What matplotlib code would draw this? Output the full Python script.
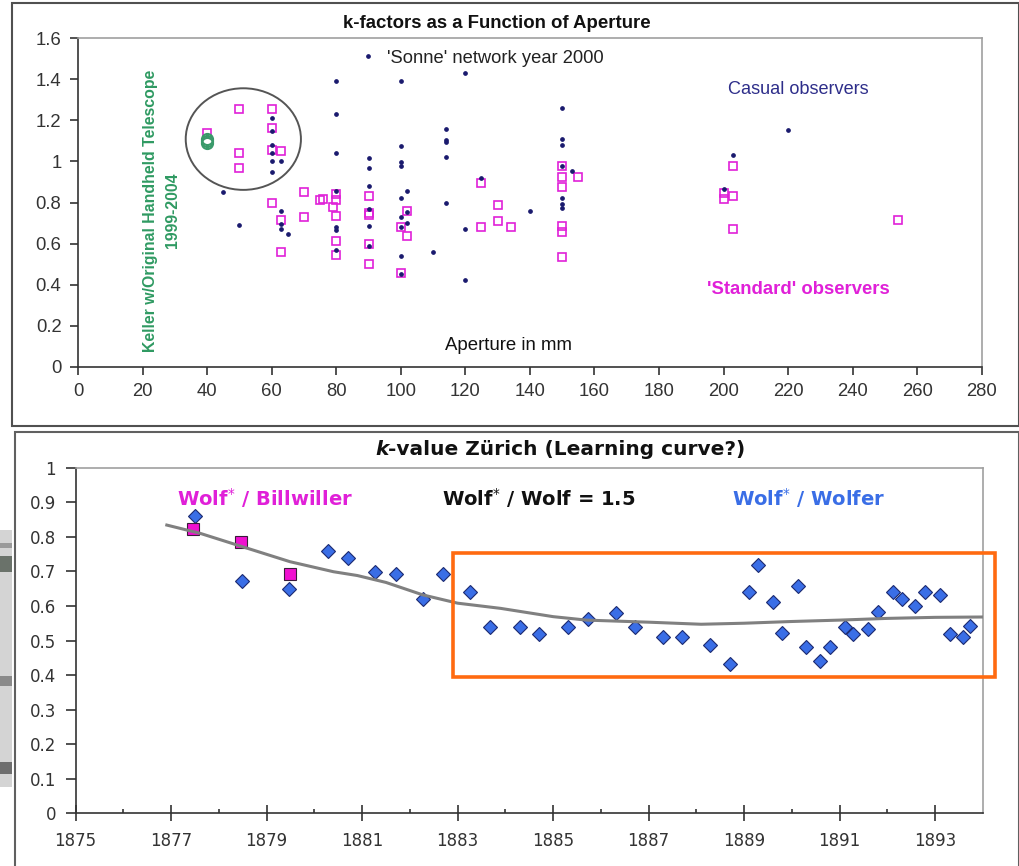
import matplotlib
matplotlib.use("Agg")
import matplotlib.pyplot as plt
from matplotlib.patches import Rectangle, Ellipse

# ---- datos: k-factors vs apertura ----
casual_ap = [45, 50, 60, 60, 60, 60, 60, 60, 63, 63, 63, 63, 65,
             80, 80, 80, 80, 80, 80, 80, 90, 90, 90, 90, 90, 90,
             100, 100, 100, 100, 100, 100, 100, 100, 100, 102, 102, 102,
             110, 114, 114, 114, 114, 114, 120, 120, 120, 125, 140,
             150, 150, 150, 150, 150, 150, 150, 153, 200, 203, 220]
casual_k = [0.85, 0.69, 1.21, 1.15, 1.08, 1.04, 1.0, 0.95, 1.0, 0.76, 0.695, 0.67, 0.645,
            1.39, 1.23, 1.04, 0.856, 0.68, 0.665, 0.57, 1.015, 0.97, 0.88, 0.77, 0.685, 0.59,
            1.39, 1.075, 0.995, 0.98, 0.82, 0.73, 0.68, 0.54, 0.45, 0.856, 0.755, 0.70,
            0.557, 1.16, 1.105, 1.095, 1.023, 0.80, 1.43, 0.673, 0.42, 0.92, 0.76,
            1.26, 1.108, 1.082, 0.98, 0.822, 0.793, 0.772, 0.952, 0.864, 1.032, 1.153]

standard_ap = [40, 50, 50, 50, 60, 60, 60, 63, 60, 63, 63, 70, 70, 75, 76, 79,
               80, 80, 80, 80, 80, 90, 90, 90, 90, 90, 100, 100, 102, 102,
               125, 125, 130, 130, 134, 150, 150, 150, 150, 150, 150, 155,
               200, 200, 203, 203, 203, 254]
standard_k = [1.14, 1.254, 1.04, 0.968, 1.254, 1.161, 1.057, 1.053, 0.80, 0.715, 0.56, 0.851, 0.728, 0.812, 0.817, 0.78,
              0.841, 0.812, 0.734, 0.614, 0.543, 0.832, 0.747, 0.739, 0.598, 0.502, 0.682, 0.455, 0.760, 0.637,
              0.897, 0.682, 0.786, 0.708, 0.682, 0.98, 0.923, 0.877, 0.687, 0.658, 0.533, 0.923,
              0.848, 0.817, 0.978, 0.833, 0.671, 0.715]

keller_ap = [40, 40, 40]
keller_k = [1.09, 1.10, 1.11]

# ---- datos: k-value Zürich ----
wolfer_year = [1877.49, 1878.48, 1879.47, 1880.29, 1880.70, 1881.28, 1881.71, 1882.27, 1882.69,
               1883.26, 1883.68, 1884.30, 1884.70, 1885.31, 1885.72, 1886.32, 1886.71, 1887.30,
               1887.70, 1888.29, 1888.70, 1889.11, 1889.30, 1889.60, 1889.79, 1890.12, 1890.29,
               1890.59, 1890.80, 1891.12, 1891.29, 1891.59, 1891.80, 1892.11, 1892.30, 1892.58,
               1892.79, 1893.10, 1893.31, 1893.59, 1893.72]
wolfer_k = [0.861, 0.672, 0.650, 0.760, 0.738, 0.699, 0.691, 0.621, 0.691,
            0.639, 0.540, 0.540, 0.518, 0.540, 0.561, 0.581, 0.540, 0.511,
            0.511, 0.487, 0.431, 0.639, 0.719, 0.612, 0.521, 0.659, 0.482,
            0.442, 0.482, 0.540, 0.518, 0.532, 0.582, 0.639, 0.620, 0.600,
            0.639, 0.632, 0.519, 0.511, 0.542]

billwiller_year = [1877.45, 1878.46, 1879.48]
billwiller_k = [0.823, 0.786, 0.693]

trend_year = [1876.91, 1877.61, 1878.48, 1879.49, 1880.40, 1880.90, 1881.5, 1882.27, 1883.0,
              1883.9, 1885.0, 1885.7, 1887.0, 1888.1, 1889.0, 1890.0, 1891.0, 1892.0, 1893.0, 1894.0]
trend_k = [0.834, 0.810, 0.772, 0.728, 0.699, 0.688, 0.668, 0.632, 0.608,
           0.593, 0.569, 0.559, 0.553, 0.547, 0.550, 0.555, 0.559, 0.564, 0.567, 0.568]

W, H = 1020, 866


def box(x0, y0, x1, y1):
    # pixel (arriba-izquierda) -> fracción de figura
    return [x0 / W, 1 - y1 / H, (x1 - x0) / W, (y1 - y0) / H]


fig = plt.figure(figsize=(10.2, 8.66), dpi=100)
fig.patch.set_facecolor("white")

# marcos exteriores
fig.patches.append(Rectangle((12 / W, 1 - 426 / H), 1007 / W, 423 / H, transform=fig.transFigure,
                             fill=False, ec="#505050", lw=1.5))
fig.patches.append(Rectangle((15 / W, -0.05), 1004 / W, 1 - 432 / H + 0.05, transform=fig.transFigure,
                             fill=False, ec="#606060", lw=1.5))
# tira de foto a la izquierda
fig.patches.append(Rectangle((0, 1 - 787 / H), 12 / W, 257 / H, transform=fig.transFigure,
                             fc="#d4d4d4", ec="none"))
for y0, y1, c in [(543, 548, "#9a9a9a"), (556, 572, "#6a726a"), (676, 686, "#8a8a8a"), (762, 774, "#6e6e6e")]:
    fig.patches.append(Rectangle((0, 1 - y1 / H), 12 / W, (y1 - y0) / H, transform=fig.transFigure,
                                 fc=c, ec="none"))

# ================= gráfica superior =================
sans = ["Liberation Sans", "DejaVu Sans"]
ax1 = fig.add_axes(box(78.1, 38.3, 981.7, 366.7))
ax1.plot(standard_ap, standard_k, "s", ms=5.5, mfc="none", mec="#e020d8", mew=1.2, zorder=3)
dots, = ax1.plot(casual_ap, casual_k, "o", ms=2.4, color="#1a1a6e", zorder=4,
                 label="'Sonne' network year 2000")
ax1.plot(keller_ap, keller_k, "o", ms=8, mfc="none", mec="#3a9a6a", mew=1.5, zorder=5)
ax1.add_patch(Ellipse((51.2, 1.109), 35.7, 0.495, fill=False, ec="#555555", lw=1.4, zorder=2))

ax1.set_xlim(0, 280)
ax1.set_ylim(0, 1.6)
ax1.set_xticks(range(0, 281, 20))
ax1.set_yticks([i * 0.2 for i in range(9)])
ax1.set_yticklabels(["0", "0.2", "0.4", "0.6", "0.8", "1", "1.2", "1.4", "1.6"])
ax1.tick_params(direction="out", length=6, width=1.2, color="#333333", labelsize=13.3,
                labelcolor="#333333", pad=6)
for lbl in ax1.get_xticklabels() + ax1.get_yticklabels():
    lbl.set_family(sans)
for s in ["left", "bottom"]:
    ax1.spines[s].set_color("#333333")
    ax1.spines[s].set_linewidth(1.2)
for s in ["top", "right"]:
    ax1.spines[s].set_color("#a0a0a0")
    ax1.spines[s].set_linewidth(1.2)

ax1.legend(handles=[dots], loc="center left", bbox_to_anchor=(0.3147, 0.94), frameon=False,
           handlelength=0.6, handletextpad=0.73, borderpad=0, borderaxespad=0,
           prop={"family": sans, "size": 13.2}, labelcolor="#222222")

fig.text(497 / W, 1 - 23 / H, "k-factors as a Function of Aperture", family=sans, weight="bold",
         size=13.4, ha="center", va="center", color="#111111")
fig.text(728 / W, 1 - 90 / H, "Casual observers", family=sans, size=13.1, color="#2e2e8a",
         ha="left", va="center")
fig.text(707 / W, 1 - 289 / H, "'Standard' observers", family=sans, size=13.3, weight="bold",
         color="#e020d8", ha="left", va="center")
fig.text(445 / W, 1 - 345 / H, "Aperture in mm", family=sans, size=13.4, color="#111111",
         ha="left", va="center")
fig.text(150 / W, 1 - 211 / H, "Keller w/Original Handheld Telescope", family=sans, size=11.4,
         weight="bold", color="#2f9a62", rotation=90, ha="center", va="center")
fig.text(173 / W, 1 - 210 / H, "1999-2004", family=sans, size=11.4, weight="bold",
         color="#2f9a62", rotation=90, ha="center", va="center")

# ================= gráfica inferior =================
plt.rcParams["mathtext.fontset"] = "dejavusans"
ax2 = fig.add_axes(box(75.6, 467.7, 982.9, 813.3))
ax2.plot(wolfer_year, wolfer_k, "D", ms=7.1, mfc="#3a6ee6", mec="#1c2a70", mew=0.8, zorder=3)
ax2.plot(billwiller_year, billwiller_k, "s", ms=9, mfc="#f010d0", mec="#3a1a3a", mew=0.8, zorder=4)
ax2.plot(trend_year, trend_k, "-", color="#808080", lw=2.2, zorder=5)
ax2.add_patch(Rectangle((1882.91, 0.394), 11.35, 0.358, fill=False, ec="#ff6a10", lw=2.6,
                        clip_on=False, zorder=6))

ax2.set_xlim(1875, 1894)
ax2.set_ylim(0, 1)
ax2.set_xticks(range(1875, 1894, 2))
ax2.set_xticks(range(1876, 1894, 2), minor=True)
ax2.set_yticks([i / 10 for i in range(11)])
ax2.set_yticklabels(["0", "0.1", "0.2", "0.3", "0.4", "0.5", "0.6", "0.7", "0.8", "0.9", "1"])
ax2.tick_params(axis="y", direction="out", length=7, width=1.2, color="#333333", labelsize=12,
                labelcolor="#333333", pad=7)
ax2.tick_params(axis="x", which="major", direction="inout", length=11, width=1.2, color="#333333",
                labelsize=12, labelcolor="#333333", pad=8)
ax2.tick_params(axis="x", which="minor", direction="in", length=3, width=1.2, color="#333333")
for lbl in ax2.get_xticklabels() + ax2.get_yticklabels():
    lbl.set_family("DejaVu Sans")
for s in ["left", "bottom"]:
    ax2.spines[s].set_color("#333333")
    ax2.spines[s].set_linewidth(1.2)
for s in ["top", "right"]:
    ax2.spines[s].set_color("#a0a0a0")
    ax2.spines[s].set_linewidth(1.2)

t1 = fig.text(375 / W, 1 - 455 / H, "k", family="DejaVu Sans", weight="bold", style="italic",
              size=14.5, ha="left", va="baseline", color="#111111")
ax2.annotate("-value Zürich (Learning curve?)", xy=(1, 0), xycoords=t1, ha="left", va="bottom",
             family="DejaVu Sans", weight="bold", size=14.5, color="#111111", annotation_clip=False)

fig.text(177 / W, 1 - 498 / H, r"Wolf$^{*}$ / Billwiller", family="DejaVu Sans", weight="bold",
         size=14, color="#e020d8", ha="left", va="center")
fig.text(442 / W, 1 - 498 / H, r"Wolf$^{*}$ / Wolf = 1.5", family="DejaVu Sans", weight="bold",
         size=14, color="#111111", ha="left", va="center")
fig.text(732 / W, 1 - 498 / H, r"Wolf$^{*}$ / Wolfer", family="DejaVu Sans", weight="bold",
         size=14, color="#3a6ee6", ha="left", va="center")

plt.savefig("out.png", dpi=100)
plt.close()
